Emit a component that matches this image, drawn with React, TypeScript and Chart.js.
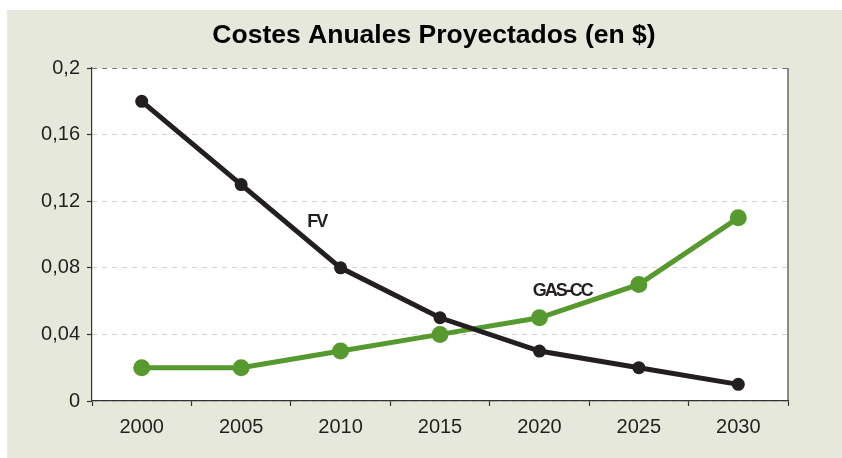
import React, { useEffect, useRef } from "react";
import { Chart, registerables } from "chart.js";

Chart.register(...registerables);

const years = ["2000", "2005", "2010", "2015", "2020", "2025", "2030"];
const fvValues = [0.18, 0.13, 0.08, 0.05, 0.03, 0.02, 0.01];
const gasValues = [0.02, 0.02, 0.03, 0.04, 0.05, 0.07, 0.11];
const yTickLabels = ["0", "0,04", "0,08", "0,12", "0,16", "0,2"];
const chartTitle = "Costes Anuales Proyectados (en $)";
const seriesLabels = [
  { text: "FV", index: 1.76, value: 0.1075 },
  { text: "GAS-CC", index: 4.23, value: 0.066 },
];

const BG = "#e5e8db";
const GREEN = "#56992f";
const DARK = "#231f20";
const FONT = "'Liberation Sans', Arial, sans-serif";

const decorPlugin = {
  id: "decor",
  beforeDraw(chart: any) {
    const { ctx, chartArea } = chart;
    ctx.save();
    ctx.fillStyle = "#ffffff";
    ctx.fillRect(chartArea.left, chartArea.top, chartArea.right - chartArea.left, chartArea.bottom - chartArea.top);
    ctx.restore();
  },
  afterDatasetsDraw(chart: any) {
    const { ctx, chartArea, scales } = chart;
    const x = scales.x;
    const y = scales.y;
    ctx.save();
    // right border
    ctx.strokeStyle = "#444";
    ctx.lineWidth = 1.2;
    ctx.beginPath();
    ctx.moveTo(chartArea.right, chartArea.top);
    ctx.lineTo(chartArea.right, chartArea.bottom);
    ctx.stroke();
    // series labels
    ctx.fillStyle = DARK;
    ctx.font = `bold 18px ${FONT}`;
    (ctx as any).letterSpacing = "-2px";
    ctx.textAlign = "center";
    ctx.textBaseline = "middle";
    for (const l of seriesLabels) {
      const i0 = Math.floor(l.index);
      const f = l.index - i0;
      const px = x.getPixelForValue(i0) * (1 - f) + x.getPixelForValue(i0 + 1) * f;
      const py = y.getPixelForValue(l.value);
      ctx.fillText(l.text, px, py);
    }
    (ctx as any).letterSpacing = "0px";
    // title
    ctx.font = `bold 26.5px ${FONT}`;
    ctx.textAlign = "center";
    ctx.textBaseline = "middle";
    ctx.fillStyle = "#000";
    ctx.fillText(chartTitle, (chartArea.left + chartArea.right) / 2 - 6, chartArea.top - 32);
    ctx.restore();
  },
};

export default function App() {
  const ref = useRef<HTMLCanvasElement>(null);
  useEffect(() => {
    if (!ref.current) return;
    const chart = new Chart(ref.current, {
      type: "line",
      data: {
        labels: years,
        datasets: [
          {
            label: "FV",
            data: fvValues,
            borderColor: DARK,
            backgroundColor: DARK,
            borderWidth: 5,
            pointRadius: 6.5,
            pointHoverRadius: 6.5,
            pointBorderWidth: 0,
            tension: 0,
          },
          {
            label: "GAS-CC",
            data: gasValues,
            borderColor: GREEN,
            backgroundColor: GREEN,
            borderWidth: 5,
            pointRadius: 8.5,
            pointHoverRadius: 8.5,
            pointBorderWidth: 0,
            tension: 0,
          },
        ],
      },
      options: {
        responsive: false,
        animation: false,
        layout: { padding: { left: 0, right: 54, top: 58, bottom: 0 } },
        plugins: {
          legend: { display: false },
          title: { display: false },
          tooltip: { enabled: false },
        },
        scales: {
          x: {
            type: "category",
            offset: true,
            grid: {
              offset: true,
              drawOnChartArea: false,
              drawTicks: true,
              tickLength: 5,
              tickColor: "#333",
              tickWidth: 1.2,
            },
            border: { display: true, color: "#333", width: 1.2 },
            ticks: {
              color: DARK,
              font: { family: FONT, size: 20 },
              padding: 9,
              maxRotation: 0,
            },
            afterFit(scale: any) {
              scale.height = 57;
            },
          },
          y: {
            min: 0,
            max: 0.2,
            grid: {
              color: (c: any) => (c.index === 5 ? "#777" : "#d8cfcf"),
              lineWidth: 1,
              tickLength: 5,
              tickColor: "#333",
              tickWidth: 1.2,
            },
            border: { display: true, color: "#333", width: 1.2, dash: [5, 5] },
            ticks: {
              stepSize: 0.04,
              color: DARK,
              font: { family: FONT, size: 20 },
              padding: 7,
              callback: (_v: any, i: number) => yTickLabels[i],
            },
            afterFit(scale: any) {
              scale.width = 85;
            },
          },
        },
      },
      plugins: [decorPlugin],
    });
    return () => chart.destroy();
  }, []);
  return (
    <div style={{ position: "fixed", left: 7, top: 10, width: 835, height: 448, background: BG }}>
      <canvas ref={ref} width={835} height={448} />
    </div>
  );
}
